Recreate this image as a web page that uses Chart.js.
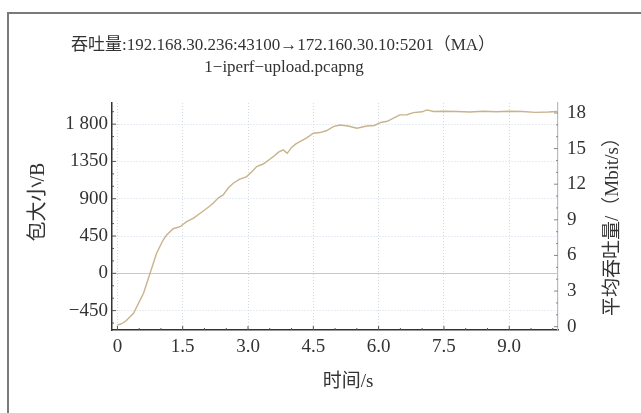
<!DOCTYPE html>
<html>
<head>
<meta charset="utf-8">
<script src="https://cdn.jsdelivr.net/npm/chart.js@4/dist/chart.umd.min.js"></script>
<style>
  html, body { margin: 0; padding: 0; background: #fff; }
  #wrap { position: relative; width: 641px; height: 413px; overflow: hidden; }
  #frame { position: absolute; left: 7px; top: 12px; width: 640px; height: 410px;
           border-left: 2px solid #7a7a7a; border-top: 2px solid #7a7a7a; }
  canvas { position: absolute; left: 0; top: 0; }
</style>
</head>
<body>
<div id="wrap">
  <div id="frame"></div>
  <canvas id="c" width="641" height="413"></canvas>
</div>
<script>
// ---- data ----
const titleLines = ["吞吐量:192.168.30.236:43100→172.160.30.10:5201（MA）", "1−iperf−upload.pcapng"];
const xTitle = "时间/s";
const yLeftTitle = "包大小/B";
const yRightTitle = "平均吞吐量/（Mbit/s）";

const xTickValues = [0, 1.5, 3.0, 4.5, 6.0, 7.5, 9.0];
const xTickLabels = ["0", "1.5", "3.0", "4.5", "6.0", "7.5", "9.0"];
const leftTickValues = [-450, 0, 450, 900, 1350, 1800];
const leftTickLabels = ["−450", "0", "450", "900", "1350", "1 800"];
const rightTickValues = [0, 3, 6, 9, 12, 15, 18];
const rightTickLabels = ["0", "3", "6", "9", "12", "15", "18"];

// time (s)
const timeS = [0, 0.1, 0.2, 0.37, 0.6, 0.75, 0.9, 1.05, 1.13, 1.28, 1.44, 1.59, 1.75, 1.9, 2.05, 2.2,
  2.32, 2.43, 2.55, 2.66, 2.8, 2.97, 3.1, 3.2, 3.35, 3.5, 3.58, 3.7, 3.81, 3.9, 4.0, 4.1, 4.19, 4.35,
  4.5, 4.65, 4.8, 4.96, 5.11, 5.3, 5.5, 5.73, 5.9, 6.05, 6.2, 6.34, 6.49, 6.65, 6.8, 7.0, 7.11, 7.26,
  7.5, 7.8, 8.1, 8.4, 8.7, 9.0, 9.3, 9.6, 9.9, 10.1];
// average throughput (Mbit/s), moving average
const throughput = [0.14, 0.25, 0.5, 1.13, 2.81, 4.5, 6.18, 7.3, 7.72, 8.25, 8.42, 8.85, 9.15, 9.55, 9.95, 10.4,
  10.85, 11.1, 11.7, 12.08, 12.4, 12.64, 13.1, 13.48, 13.7, 14.1, 14.32, 14.7, 14.89, 14.6, 15.1, 15.4, 15.59, 15.9,
  16.29, 16.35, 16.5, 16.85, 16.99, 16.9, 16.71, 16.9, 16.95, 17.2, 17.3, 17.56, 17.84, 17.85, 18.03, 18.1, 18.26, 18.12,
  18.15, 18.12, 18.08, 18.15, 18.1, 18.15, 18.12, 18.05, 18.08, 18.12];

// ---- styling ----
const SERIF = "'Liberation Serif', 'Noto Sans CJK SC', serif";
const TXT = '#333333';
const GRID = '#cfdbe4';

const points = timeS.map((t, i) => ({ x: t, y: throughput[i] }));

const decor = {
  id: 'decor',
  beforeDatasetsDraw(chart) {
    const ctx = chart.ctx;
    const x = chart.scales.x, yl = chart.scales.y, yr = chart.scales.y1;
    const a = chart.chartArea;
    ctx.save();
    // solid zero line on the left scale
    const z = Math.round(yl.getPixelForValue(0)) + 0.5;
    ctx.strokeStyle = '#b9cdd8';
    ctx.lineWidth = 1.2;
    ctx.beginPath(); ctx.moveTo(a.left, z); ctx.lineTo(a.right, z); ctx.stroke();

    ctx.strokeStyle = '#555';
    ctx.lineWidth = 1;
    // x ticks: major every 1.5, minor every 0.5 (inward)
    for (let k = 0; k <= 20; k++) {
      const v = k * 0.5;
      const px = x.getPixelForValue(v);
      if (px < a.left || px > a.right) continue;
      const len = (k % 3 === 0) ? 4 : 2;
      ctx.beginPath(); ctx.moveTo(px, a.bottom); ctx.lineTo(px, a.bottom - len); ctx.stroke();
    }
    // left ticks: major every 450, minor every 150
    for (let k = -4; k <= 13; k++) {
      const v = k * 150;
      const py = yl.getPixelForValue(v);
      if (py < a.top || py > a.bottom) continue;
      const len = (k % 3 === 0) ? 4 : 2;
      ctx.beginPath(); ctx.moveTo(a.left, py); ctx.lineTo(a.left + len, py); ctx.stroke();
    }
    // right ticks every 1
    ctx.strokeStyle = '#888';
    for (let v = 0; v <= 18; v++) {
      const py = yr.getPixelForValue(v);
      const len = (v % 3 === 0) ? 4 : 2;
      ctx.beginPath(); ctx.moveTo(a.right, py); ctx.lineTo(a.right - len, py); ctx.stroke();
    }
    ctx.restore();
  },
  afterDraw(chart) {
    const ctx = chart.ctx;
    const a = chart.chartArea;
    ctx.save();
    ctx.fillStyle = TXT;
    ctx.textAlign = 'center';
    ctx.textBaseline = 'middle';
    ctx.font = "17px " + SERIF;
    ctx.fillText(titleLines[0], 283, 46);
    ctx.fillText(titleLines[1], 284, 68);
    ctx.font = "19px " + SERIF;
    ctx.fillText(xTitle, (a.left + a.right) / 2 + 13, 382);
    ctx.save();
    ctx.translate(39, 202);
    ctx.rotate(-Math.PI / 2);
    ctx.font = "20px " + SERIF;
    ctx.fillText(yLeftTitle, 0, 0);
    ctx.restore();
    ctx.save();
    ctx.translate(613, 222);
    ctx.rotate(-Math.PI / 2);
    ctx.font = "19px " + SERIF;
    ctx.fillText(yRightTitle, 0, 0);
    ctx.restore();
    ctx.restore();
  }
};

new Chart(document.getElementById('c'), {
  type: 'line',
  data: {
    datasets: [{
      data: points,
      yAxisID: 'y1',
      borderColor: '#c8b38b',
      borderWidth: 1.4,
      pointRadius: 0,
      tension: 0,
      fill: false
    }]
  },
  options: {
    responsive: false,
    animation: false,
    devicePixelRatio: 1,
    layout: { padding: { top: 103, left: 0, right: 0, bottom: 0 } },
    plugins: { legend: { display: false }, title: { display: false }, tooltip: { enabled: false } },
    scales: {
      x: {
        type: 'linear',
        min: -0.124,
        max: 10.12,
        afterFit: s => { s.height = 83; },
        afterBuildTicks: s => { s.ticks = xTickValues.map(v => ({ value: v })); },
        ticks: {
          padding: 6,
          color: TXT,
          font: { family: SERIF, size: 19 },
          maxRotation: 0,
          autoSkip: false,
          callback: v => { const i = xTickValues.indexOf(v); return i >= 0 ? xTickLabels[i] : ''; }
        },
        grid: { color: GRID, drawTicks: false, lineWidth: 1 },
        border: { color: '#333', width: 1.5, dash: [1, 2] }
      },
      y: {
        position: 'left',
        min: -684,
        max: 2055,
        afterFit: s => { s.width = 112; },
        afterBuildTicks: s => { s.ticks = leftTickValues.map(v => ({ value: v })); },
        ticks: {
          padding: 4,
          color: TXT,
          font: { family: SERIF, size: 19 },
          autoSkip: false,
          callback: v => { const i = leftTickValues.indexOf(v); return i >= 0 ? leftTickLabels[i] : ''; }
        },
        grid: {
          drawTicks: false,
          color: c => c.tick && c.tick.value === 0 ? 'rgba(0,0,0,0)' : GRID,
          lineWidth: 1
        },
        border: { color: '#333', width: 1.5, dash: [1, 2] }
      },
      y1: {
        position: 'right',
        min: -0.28,
        max: 18.84,
        afterFit: s => { s.width = 83; },
        afterBuildTicks: s => { s.ticks = rightTickValues.map(v => ({ value: v })); },
        ticks: {
          padding: 9,
          color: TXT,
          font: { family: SERIF, size: 19 },
          autoSkip: false,
          callback: v => { const i = rightTickValues.indexOf(v); return i >= 0 ? rightTickLabels[i] : ''; }
        },
        grid: { drawOnChartArea: false, drawTicks: false },
        border: { color: '#b4bcc4', width: 1.2 }
      }
    }
  },
  plugins: [decor]
});
</script>
</body>
</html>
